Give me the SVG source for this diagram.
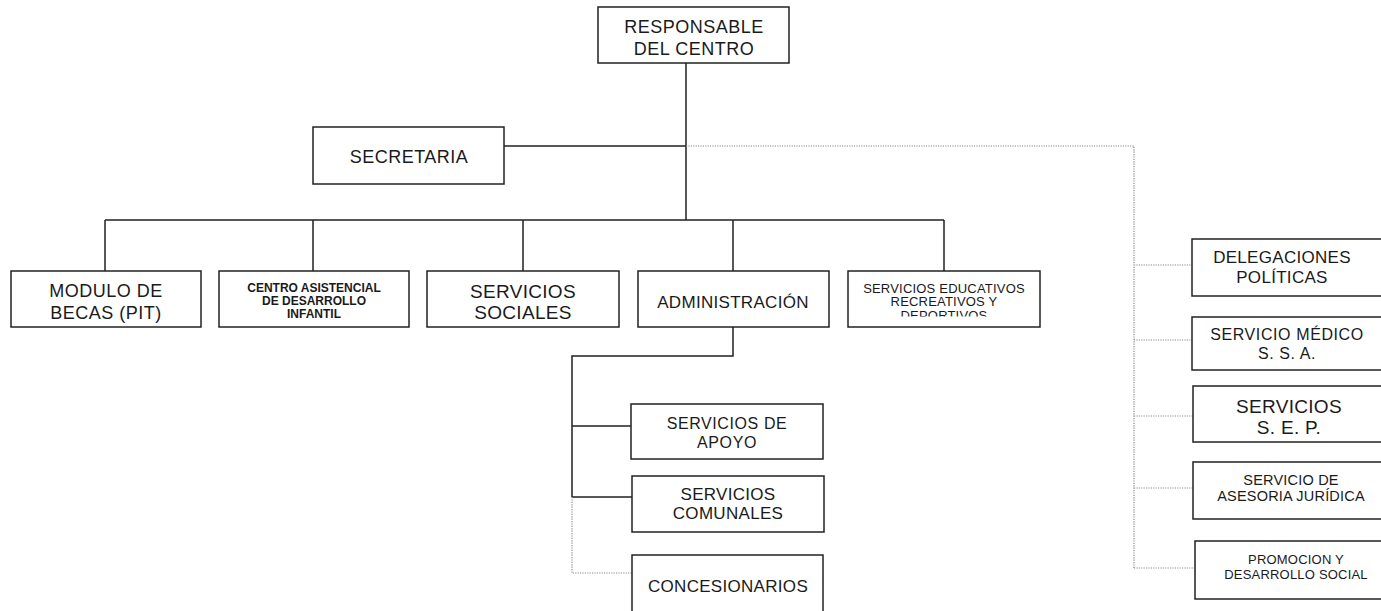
<svg xmlns="http://www.w3.org/2000/svg" width="1381" height="611" viewBox="0 0 1381 611">
<style>
.box{fill:#fff;stroke:#222;stroke-width:1.5}
.ln{fill:none;stroke:#222;stroke-width:1.5}
.dot{fill:none;stroke:#8a8a8a;stroke-width:1.2;stroke-dasharray:1.2 1.2}
text{font-family:"Liberation Sans",Arial,sans-serif;fill:#1a1a1a;text-anchor:middle}
.f18{font-size:18px;letter-spacing:0.5px}
.f19{font-size:19px;letter-spacing:0.3px}
.f17{font-size:17px;letter-spacing:0.3px}
.f16{font-size:16px;letter-spacing:0.6px}
.b12{font-size:12px;font-weight:bold}
.f13{font-size:13px;letter-spacing:0.2px}
.f14{font-size:14.5px;letter-spacing:0.2px}
</style>
<defs>
<clipPath id="clipSE"><rect x="848" y="271" width="192" height="45.5"/></clipPath>
</defs>
<rect width="1381" height="611" fill="#fff"/>
<g id="connectors">
<path class="ln" d="M686 63V220M504 146H686M105 220H944M105 220V271M313 220V271M523 220V271M733 220V271M944 220V271"/>
<path class="ln" d="M733 327V356H572V497M572 426H631M572 497H632"/>
<path class="dot" d="M686 146H1134V568M1134 265H1192M1134 340H1192M1134 416H1193M1134 488H1193M1134 568H1195"/>
<path class="dot" d="M572 497V573H632"/>
</g>
<g id="responsable">
<rect class="box" x="598" y="7" width="191" height="56"/>
<text class="f18" x="694" y="33">RESPONSABLE</text>
<text class="f18" x="694" y="55">DEL CENTRO</text>
</g>
<g id="secretaria">
<rect class="box" x="313" y="127" width="191" height="57"/>
<text class="f18" x="409" y="163">SECRETARIA</text>
</g>
<g id="modulo">
<rect class="box" x="11" y="271" width="190" height="56"/>
<text class="f18" x="106" y="297">MODULO DE</text>
<text class="f18" x="106" y="319">BECAS (PIT)</text>
</g>
<g id="centro">
<rect class="box" x="219" y="271" width="190" height="56"/>
<text class="b12" x="314" y="291.5">CENTRO ASISTENCIAL</text>
<text class="b12" x="314" y="305">DE DESARROLLO</text>
<text class="b12" x="314" y="318">INFANTIL</text>
</g>
<g id="servicios-sociales">
<rect class="box" x="427" y="271" width="192" height="56"/>
<text class="f19" x="523" y="298">SERVICIOS</text>
<text class="f19" x="523" y="319">SOCIALES</text>
</g>
<g id="administracion">
<rect class="box" x="638" y="271" width="191" height="56"/>
<text class="f17" x="733" y="308">ADMINISTRACIÓN</text>
</g>
<g id="servicios-educativos">
<rect class="box" x="848" y="271" width="192" height="56"/>
<g clip-path="url(#clipSE)">
<text class="f13" x="944" y="292.5">SERVICIOS EDUCATIVOS</text>
<text class="f13" x="944" y="305.5">RECREATIVOS Y</text>
<text class="f13" x="944" y="320">DEPORTIVOS</text>
</g>
</g>
<g id="servicios-apoyo">
<rect class="box" x="631" y="404" width="192" height="55"/>
<text class="f16" x="727" y="429">SERVICIOS DE</text>
<text class="f16" x="727" y="448">APOYO</text>
</g>
<g id="servicios-comunales">
<rect class="box" x="632" y="476" width="192" height="56"/>
<text class="f17" x="728" y="500">SERVICIOS</text>
<text class="f17" x="728" y="519">COMUNALES</text>
</g>
<g id="concesionarios">
<rect class="box" x="632" y="555" width="191" height="70"/>
<text class="f17" x="728" y="592">CONCESIONARIOS</text>
</g>
<g id="delegaciones">
<rect class="box" x="1192" y="239" width="200" height="57"/>
<text class="f17" x="1282" y="263">DELEGACIONES</text>
<text class="f17" x="1282" y="283">POLÍTICAS</text>
</g>
<g id="servicio-medico">
<rect class="box" x="1192" y="317" width="200" height="53"/>
<text class="f16" x="1287" y="340">SERVICIO MÉDICO</text>
<text class="f16" x="1287" y="359">S. S. A.</text>
</g>
<g id="servicios-sep">
<rect class="box" x="1193" y="386" width="200" height="56"/>
<text class="f19" x="1289" y="413">SERVICIOS</text>
<text class="f19" x="1289" y="434">S. E. P.</text>
</g>
<g id="asesoria">
<rect class="box" x="1193" y="462" width="200" height="57"/>
<text class="f14" x="1291" y="485">SERVICIO DE</text>
<text class="f14" x="1291" y="501">ASESORIA JURÍDICA</text>
</g>
<g id="promocion">
<rect class="box" x="1195" y="541" width="200" height="58"/>
<text class="f13" x="1296" y="563.5">PROMOCION Y</text>
<text class="f13" x="1296" y="578.5">DESARROLLO SOCIAL</text>
</g>
</svg>
